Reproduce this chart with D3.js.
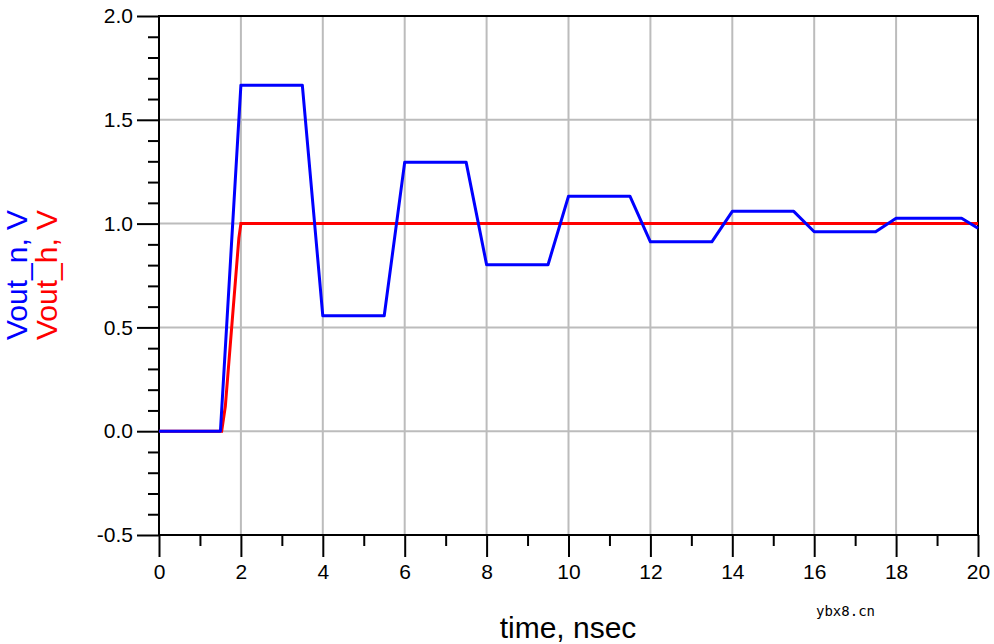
<!DOCTYPE html>
<html>
<head>
<meta charset="utf-8">
<script src="https://cdn.jsdelivr.net/npm/d3@7"></script>
<style>
  body { margin: 0; background: #fff; }
  text { font-family: "Liberation Sans", Arial, sans-serif; }
  text.mark { font-family: "DejaVu Sans Mono", monospace; }
</style>
</head>
<body>
<div id="chart"></div>
<script>
// Data (time in nsec, voltage in V)
const timeN = [0, 1.5, 2.0, 3.5, 4.0, 5.5, 6.0, 7.5, 8.0, 9.5, 10.0, 11.5, 12.0, 13.5, 14.0, 15.5, 16.0, 17.5, 18.0, 19.6, 20.0];
const voutN = [0, 0, 1.667, 1.667, 0.556, 0.556, 1.296, 1.296, 0.802, 0.802, 1.132, 1.132, 0.912, 0.912, 1.059, 1.059, 0.961, 0.961, 1.026, 1.026, 0.978];
const timeH = [0, 1.53, 1.62, 1.95, 2.0, 20.0];
const voutH = [0, 0, 0.12, 0.93, 1.0, 1.0];

const xTicks = [0, 2, 4, 6, 8, 10, 12, 14, 16, 18, 20];
const yTicks = [-0.5, 0.0, 0.5, 1.0, 1.5, 2.0];

const W = 994, H = 644;
const margin = { top: 16, right: 16, bottom: 109, left: 159 };
const width = W - margin.left - margin.right;
const height = H - margin.top - margin.bottom;

const svg = d3.select("#chart")
    .append("svg")
    .attr("width", W)
    .attr("height", H);

const g = svg.append("g")
    .attr("transform", `translate(${margin.left},${margin.top})`);

const x = d3.scaleLinear().domain([0, 20]).range([0, width]);
const y = d3.scaleLinear().domain([-0.5, 2.0]).range([height, 0]);

// Grid lines
g.append("g")
    .selectAll("line")
    .data(xTicks.slice(1, -1))
    .enter()
    .append("line")
    .attr("x1", d => x(d)).attr("x2", d => x(d))
    .attr("y1", 0).attr("y2", height)
    .attr("stroke", "#bcbcbc").attr("stroke-width", 2);

g.append("g")
    .selectAll("line")
    .data(yTicks.slice(1, -1))
    .enter()
    .append("line")
    .attr("y1", d => y(d)).attr("y2", d => y(d))
    .attr("x1", 0).attr("x2", width)
    .attr("stroke", "#bcbcbc").attr("stroke-width", 2);

// Frame
g.append("rect")
    .attr("width", width).attr("height", height)
    .attr("fill", "none").attr("stroke", "#000").attr("stroke-width", 2);

// Y axis
const yAxis = g.append("g")
    .call(d3.axisLeft(y)
        .tickValues(yTicks)
        .tickSize(22)
        .tickPadding(4)
        .tickFormat(d => d3.format(".1f")(d).replace("\u2212", "-")));
yAxis.select(".domain").remove();
yAxis.selectAll("line").attr("stroke-width", 2);
yAxis.selectAll("text")
    .attr("font-size", 21)
    .attr("fill", "#000");

const yMinor = g.append("g")
    .call(d3.axisLeft(y)
        .tickValues(d3.range(-4, 20).map(i => i / 10).filter(v => Math.abs(v * 2 - Math.round(v * 2)) > 1e-6))
        .tickSize(11)
        .tickFormat(""));
yMinor.select(".domain").remove();
yMinor.selectAll("line").attr("stroke-width", 2);

// X axis
const xAxis = g.append("g")
    .attr("transform", `translate(0,${height})`)
    .call(d3.axisBottom(x)
        .tickValues(xTicks)
        .tickSize(22)
        .tickPadding(7)
        .tickFormat(d3.format("d")));
xAxis.select(".domain").remove();
xAxis.selectAll("line").attr("stroke-width", 2);
xAxis.selectAll("text")
    .attr("font-size", 21)
    .attr("fill", "#000");

const xMinor = g.append("g")
    .attr("transform", `translate(0,${height})`)
    .call(d3.axisBottom(x)
        .tickValues(d3.range(1, 20, 2))
        .tickSize(11)
        .tickFormat(""));
xMinor.select(".domain").remove();
xMinor.selectAll("line").attr("stroke-width", 2);

// Curves
const line = d3.line()
    .x(d => x(d[0]))
    .y(d => y(d[1]));

g.append("path")
    .datum(d3.zip(timeH, voutH))
    .attr("d", line)
    .attr("fill", "none")
    .attr("stroke", "#ff0000")
    .attr("stroke-width", 3);

g.append("path")
    .datum(d3.zip(timeN, voutN))
    .attr("d", line)
    .attr("fill", "none")
    .attr("stroke", "#0000ff")
    .attr("stroke-width", 3)
    .attr("stroke-linejoin", "round");

// Axis titles
svg.append("text")
    .attr("x", 568)
    .attr("y", 638)
    .attr("text-anchor", "middle")
    .attr("font-size", 30)
    .text("time, nsec");

svg.append("text")
    .attr("transform", "translate(27,275) rotate(-90)")
    .attr("text-anchor", "middle")
    .attr("font-size", 30)
    .attr("fill", "#0000ff")
    .text("Vout_n, V");

svg.append("text")
    .attr("transform", "translate(57,275) rotate(-90)")
    .attr("text-anchor", "middle")
    .attr("font-size", 30)
    .attr("fill", "#ff0000")
    .text("Vout_h, V");

// Watermark
svg.append("text")
    .attr("class", "mark")
    .attr("x", 816)
    .attr("y", 616)
    .attr("font-size", 14)
    .attr("fill", "#000")
    .text("ybx8.cn");
</script>
</body>
</html>
